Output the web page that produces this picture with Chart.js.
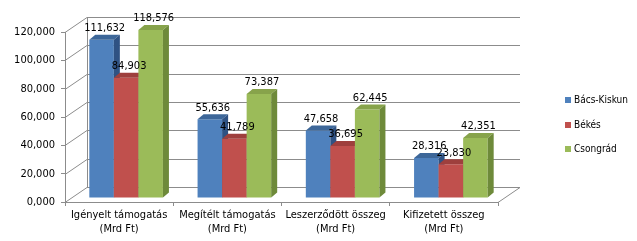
<!DOCTYPE html>
<html>
<head>
<meta charset="utf-8">
<script src="https://cdn.jsdelivr.net/npm/chart.js@4.4.1/dist/chart.umd.min.js"></script>
<style>
  html, body { margin: 0; padding: 0; background: #fff; }
  canvas { display: block; }
</style>
</head>
<body>
<canvas id="grafikon" width="637" height="241"></canvas>
<script>
var kategoriak = [
  ["Igényelt támogatás", "(Mrd Ft)"],
  ["Megítélt támogatás", "(Mrd Ft)"],
  ["Leszerződött összeg", "(Mrd Ft)"],
  ["Kifizetett összeg", "(Mrd Ft)"]
];
var bacsKiskun = [111.632, 55.636, 47.658, 28.316];
var bekes = [84.903, 41.789, 36.695, 23.830];
var csongrad = [118.576, 73.387, 62.445, 42.351];
var sorozatNevek = ["Bács-Kiskun", "Békés", "Csongrád"];

// szinek: elolap, teteje, oldala
var szinek = [
  ["#4F81BD", "#3D6799", "#2F5283"],
  ["#C0504D", "#9E3F3D", "#853331"],
  ["#9BBB59", "#87A34B", "#6E8A3A"]
];

var betu = "'DejaVu Sans Condensed', 'DejaVu Sans', sans-serif";
var melyX = 22, melyY = -15;      // hatso fal eltolasa
var oszlopX = 7, oszlopY = -4;    // oszlopok eltolasa
var mely = 6;                     // oszlop melysege

function szam(v) {
  return v.toFixed(3).replace(".", ",");
}

function lapok(ctx, bar, i) {
  var l = bar.x - bar.width / 2, r = bar.x + bar.width / 2;
  var t = bar.y, b = bar.base;
  ctx.fillStyle = szinek[i][1];
  ctx.beginPath();
  ctx.moveTo(l, t);
  ctx.lineTo(l + mely, t - mely + 1);
  ctx.lineTo(r + mely, t - mely + 1);
  ctx.lineTo(r, t);
  ctx.closePath();
  ctx.fill();
  ctx.fillStyle = szinek[i][2];
  ctx.beginPath();
  ctx.moveTo(r, t);
  ctx.lineTo(r + mely, t - mely + 1);
  ctx.lineTo(r + mely, b - mely + 1);
  ctx.lineTo(r, b);
  ctx.closePath();
  ctx.fill();
}

var hatter3d = {
  id: "hatter3d",
  beforeDatasetsDraw: function (chart) {
    var ctx = chart.ctx, a = chart.chartArea, y = chart.scales.y;
    ctx.save();
    ctx.strokeStyle = "#8c8c8c";
    ctx.lineWidth = 1;
    y.ticks.forEach(function (t) {
      var py = Math.round(y.getPixelForValue(t.value)) + 0.5;
      ctx.beginPath();
      ctx.moveTo(a.left, py);
      ctx.lineTo(a.left + melyX, py + melyY);
      ctx.lineTo(a.right + melyX, py + melyY);
      ctx.stroke();
    });
    ctx.beginPath();
    ctx.moveTo(a.left + melyX + 0.5, a.top + melyY);
    ctx.lineTo(a.left + melyX + 0.5, a.bottom + melyY);
    ctx.moveTo(a.right, a.bottom + 0.5);
    ctx.lineTo(a.right + melyX, a.bottom + melyY + 0.5);
    ctx.stroke();
    ctx.restore();
  },
  beforeDatasetDraw: function (chart) {
    // a sajat sorrendu rajzolas az afterDatasetsDraw-ban tortenik
    return false;
  },
  afterDatasetsDraw: function (chart) {
    var ctx = chart.ctx;
    ctx.save();
    ctx.translate(oszlopX, oszlopY);
    chart.data.datasets.forEach(function (ds, i) {
      chart.getDatasetMeta(i).data.forEach(function (bar) {
        bar.draw(ctx);
        lapok(ctx, bar, i);
      });
    });
    ctx.restore();
  },
  afterDraw: function (chart) {
    var ctx = chart.ctx;
    ctx.save();
    ctx.font = "11px " + betu;
    ctx.fillStyle = "#000";
    ctx.textAlign = "center";
    ctx.textBaseline = "bottom";
    chart.data.datasets.forEach(function (ds, i) {
      chart.getDatasetMeta(i).data.forEach(function (bar, j) {
        ctx.fillText(szam(ds.data[j]), bar.x + oszlopX + mely / 2, bar.y + oszlopY - mely);
      });
    });
    // jelmagyarazat
    ctx.font = "10px " + betu;
    ctx.textAlign = "left";
    ctx.textBaseline = "middle";
    var ly = [100, 125, 149];
    sorozatNevek.forEach(function (nev, i) {
      ctx.fillStyle = szinek[i][0];
      ctx.fillRect(565, ly[i] - 3, 6, 6);
      ctx.fillStyle = "#000";
      ctx.fillText(nev, 574, ly[i]);
    });
    ctx.restore();
  }
};

var adatsorok = [bacsKiskun, bekes, csongrad].map(function (d, i) {
  return {
    label: sorozatNevek[i],
    data: d,
    backgroundColor: szinek[i][0],
    borderWidth: 0,
    clip: false,
    categoryPercentage: 0.68,
    barPercentage: 1
  };
});

new Chart(document.getElementById("grafikon"), {
  type: "bar",
  data: { labels: kategoriak, datasets: adatsorok },
  options: {
    responsive: false,
    animation: false,
    layout: { padding: { top: 32, right: 139, bottom: 2, left: 0 } },
    plugins: { legend: { display: false }, tooltip: { enabled: false } },
    scales: {
      x: {
        grid: { drawOnChartArea: false, tickLength: 4, color: "#8c8c8c", offset: true },
        border: { color: "#8c8c8c" },
        ticks: { color: "#000", font: { family: betu, size: 11 }, maxRotation: 0, padding: 3 },
        afterFit: function (s) { s.height = 37; }
      },
      y: {
        min: 0,
        max: 120,
        grid: { drawOnChartArea: false, tickLength: 4, color: "#8c8c8c" },
        border: { color: "#8c8c8c" },
        ticks: {
          stepSize: 20,
          color: "#000",
          font: { family: betu, size: 11 },
          padding: 6,
          callback: function (v) { return szam(v); }
        },
        afterFit: function (s) { s.width = 65; }
      }
    }
  },
  plugins: [hatter3d]
});
</script>
</body>
</html>
